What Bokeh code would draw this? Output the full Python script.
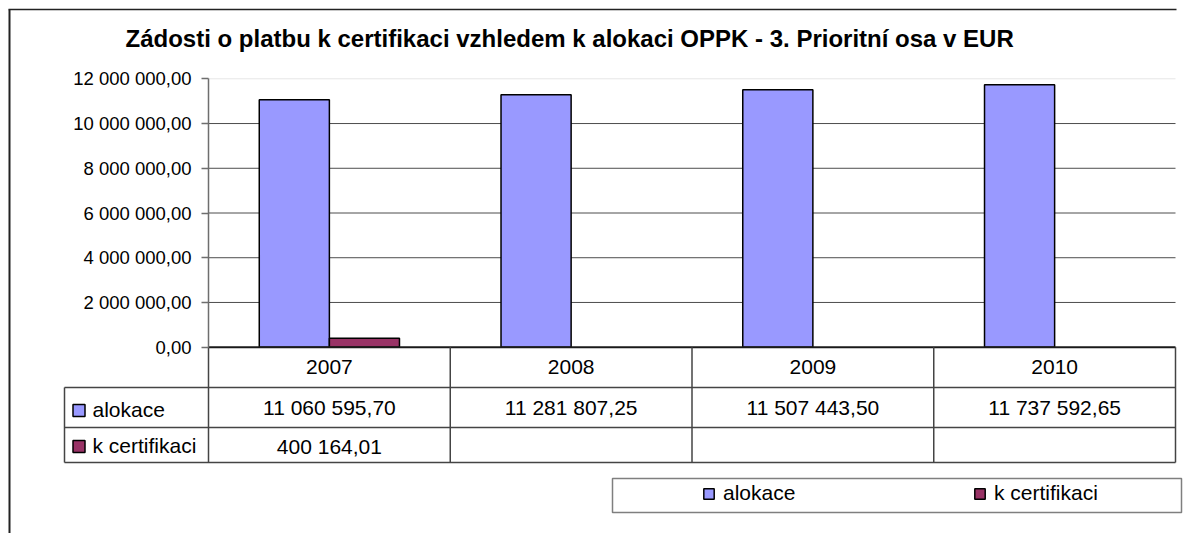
import numpy as np
from bokeh.plotting import figure
from bokeh.models import Range1d, LinearAxis, FixedTicker, Legend, LegendItem
from bokeh.core.properties import value
from bokeh.embed import file_html
from bokeh.resources import INLINE

# ---------------- data ----------------
title_text = "Zádosti o platbu k certifikaci vzhledem k alokaci OPPK - 3. Prioritní osa v EUR"
years = ["2007", "2008", "2009", "2010"]
series_names = ["alokace", "k certifikaci"]
alokace = [11060595.70, 11281807.25, 11507443.50, 11737592.65]
k_certifikaci = [400164.01, None, None, None]
y_ticks = [0, 2000000, 4000000, 6000000, 8000000, 10000000, 12000000]
y_tick_labels = ["0,00", "2 000 000,00", "4 000 000,00", "6 000 000,00",
                 "8 000 000,00", "10 000 000,00", "12 000 000,00"]


def fmt(v):
    if v is None:
        return ""
    return f"{v:,.2f}".replace(",", " ").replace(".", ",")


# ---------------- layout (canvas pixels) ----------------
W, H = 1186, 533
X0, X1 = 208, 1175           # category area left / right
Y_TOP, Y_ZERO = 78.3, 346.7  # pixel of max tick / zero
TBL_ROWS = [387, 427, 462]   # horizontal table lines
TBL_LEFT = 64
FONT = value("Liberation Sans")
C_ALOK, C_CERT = "#9999FF", "#993366"

n = len(years)
y_max = y_ticks[-1]
ppx = (X1 - X0) / n
ppy = (Y_ZERO - Y_TOP) / y_max

p = figure(width=W, height=H,
           x_range=Range1d(-X0 / ppx, (W - X0) / ppx),
           y_range=Range1d(-(H - Y_ZERO) / ppy, Y_ZERO / ppy),
           x_axis_type=None, y_axis_type=None, tools="",
           toolbar_location=None, output_backend="svg", min_border=0)
p.outline_line_color = None
p.title.visible = False
p.background_fill_color = "white"
p.extra_x_ranges = {"px": Range1d(0, W)}
p.extra_y_ranges = {"py": Range1d(H, 0)}

# outer chart border (left + top)
p.segment(x0=[9, 8], y0=[9, 9], x1=[9, X1 + 1], y1=[H, 9],
          line_color="#222222", line_width=[2, 1.5],
          x_range_name="px", y_range_name="py")

# gridlines
grid_ticks = y_ticks[1:]
p.segment(x0=0, x1=n, y0=grid_ticks, y1=grid_ticks,
          line_color=["#e6e6e6" if t == y_max else "#4d4d4d" for t in grid_ticks],
          line_width=1)

# bars
idx = np.arange(n) + 0.5
bw = 0.29
r1 = p.vbar(x=idx - bw / 2, top=alokace, width=bw, bottom=0,
            fill_color=C_ALOK, line_color="black", line_width=1.5)
r2 = p.vbar(x=idx + bw / 2, top=np.array(k_certifikaci, dtype=float), width=bw, bottom=0,
            fill_color=C_CERT, line_color="black", line_width=1.5)

# zero line
p.segment(x0=0, x1=n, y0=0, y1=0, line_color="#1a1a1a", line_width=2)

# y axis
yaxis = LinearAxis(ticker=FixedTicker(ticks=y_ticks), bounds=(0, y_max), fixed_location=0)
yaxis.major_label_overrides = {t: s for t, s in zip(y_ticks, y_tick_labels)}
yaxis.major_tick_out = 7
yaxis.major_tick_in = 0
yaxis.minor_tick_out = 0
yaxis.minor_tick_in = 0
yaxis.axis_line_color = "#6e6e6e"
yaxis.axis_line_width = 1.5
yaxis.major_tick_line_color = "#6e6e6e"
yaxis.major_tick_line_width = 1.5
yaxis.major_label_text_font = "Liberation Sans"
yaxis.major_label_text_font_size = "18.5px"
yaxis.major_label_text_color = "black"
yaxis.major_label_standoff = 10
p.add_layout(yaxis, "left")

# data table
p.segment(x0=np.arange(n + 1), x1=np.arange(n + 1), y0=Y_ZERO, y1=TBL_ROWS[-1],
          line_color="#444444", line_width=1.5, y_range_name="py")
p.segment(x0=TBL_LEFT, x1=X1, y0=TBL_ROWS, y1=TBL_ROWS,
          line_color="#444444", line_width=1.5, x_range_name="px", y_range_name="py")
p.segment(x0=TBL_LEFT, x1=TBL_LEFT, y0=TBL_ROWS[0], y1=TBL_ROWS[-1],
          line_color="#444444", line_width=1.5, x_range_name="px", y_range_name="py")

p.text(x=idx, y=366, text=years, text_font=FONT, text_font_size="21px",
       text_align="center", text_baseline="alphabetic", text_color="black", y_range_name="py")
p.text(x=idx, y=407, text=[fmt(v) for v in alokace], text_font=FONT, text_font_size="21px",
       text_align="center", text_baseline="alphabetic", text_color="black", y_range_name="py")
p.text(x=idx, y=445.5, text=[fmt(v) for v in k_certifikaci], text_font=FONT, text_font_size="21px",
       text_align="center", text_baseline="alphabetic", text_color="black", y_range_name="py")

# row headers with swatches
p.rect(x=78.5, y=[410, 446], width=12, height=12, fill_color=[C_ALOK, C_CERT],
       line_color="black", line_width=1.5, x_range_name="px", y_range_name="py")
p.text(x=92, y=[408.7, 445.3], text=series_names, text_font=FONT, text_font_size="21px",
       text_align="left", text_baseline="alphabetic", text_color="black",
       x_range_name="px", y_range_name="py")

# legend box + legend
p.quad(left=612, right=1181, top=478, bottom=512, fill_color="white",
       line_color="#7f7f7f", line_width=1.5, x_range_name="px", y_range_name="py")
legend = Legend(items=[LegendItem(label=series_names[0], renderers=[r1]),
                       LegendItem(label=series_names[1], renderers=[r2])],
                location=(702, 28), orientation="horizontal",
                glyph_width=13, glyph_height=13, label_standoff=8, label_width=250,
                spacing=0, padding=0, margin=0, border_line_color=None,
                background_fill_alpha=0, label_text_font="Liberation Sans",
                label_text_font_size="21px", label_text_color="black")
p.add_layout(legend)

# title
p.text(x=125, y=38, text=[title_text], text_font=FONT, text_font_size="24px",
       text_font_style="bold", text_align="left", text_baseline="alphabetic",
       text_color="black", x_range_name="px", y_range_name="py")

open("out.html", "w").write(file_html(p, INLINE, title="chart"))
